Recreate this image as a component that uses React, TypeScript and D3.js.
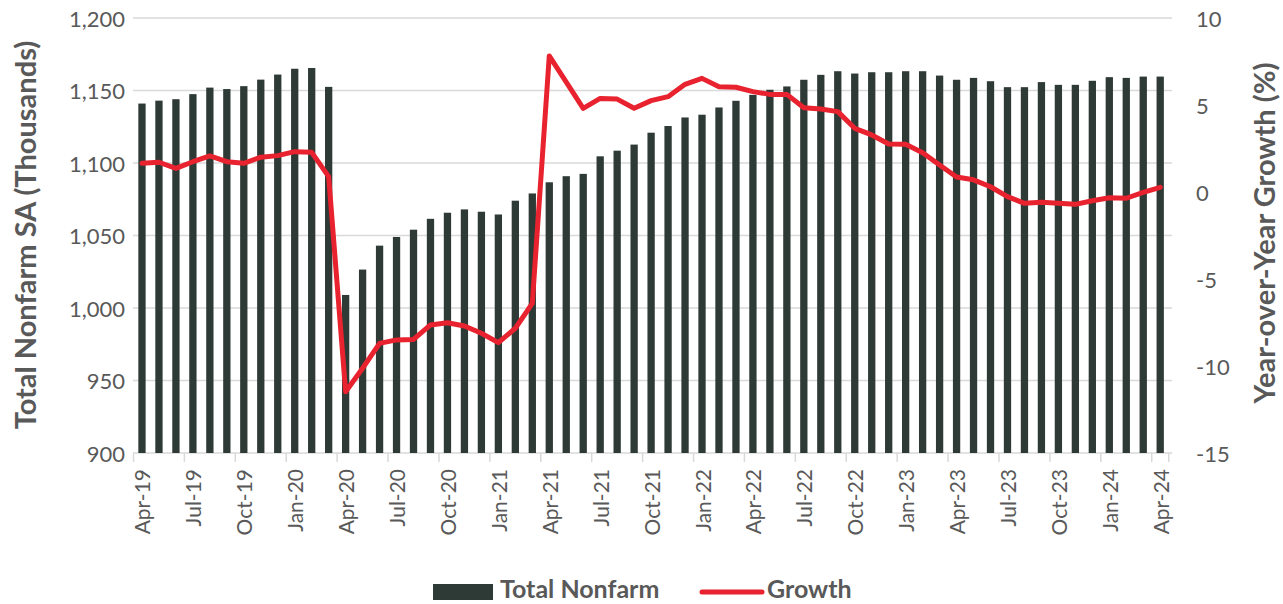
import React from "react";
import * as d3 from "d3";

const months: string[] = [
  "Apr-19","May-19","Jun-19","Jul-19","Aug-19","Sep-19","Oct-19","Nov-19","Dec-19",
  "Jan-20","Feb-20","Mar-20","Apr-20","May-20","Jun-20","Jul-20","Aug-20","Sep-20","Oct-20","Nov-20","Dec-20",
  "Jan-21","Feb-21","Mar-21","Apr-21","May-21","Jun-21","Jul-21","Aug-21","Sep-21","Oct-21","Nov-21","Dec-21",
  "Jan-22","Feb-22","Mar-22","Apr-22","May-22","Jun-22","Jul-22","Aug-22","Sep-22","Oct-22","Nov-22","Dec-22",
  "Jan-23","Feb-23","Mar-23","Apr-23","May-23","Jun-23","Jul-23","Aug-23","Sep-23","Oct-23","Nov-23","Dec-23",
  "Jan-24","Feb-24","Mar-24","Apr-24",
];

const totalNonfarm: number[] = [
  1141, 1143, 1144, 1147.5, 1152, 1151, 1153, 1157.5, 1161,
  1165, 1165.5, 1152.5, 1009, 1026.5, 1043, 1049, 1054, 1061.5, 1065.7, 1068, 1066.4,
  1064.5, 1074, 1079, 1086.7, 1090.9, 1092.5, 1104.6, 1108.5, 1112.7, 1120.9, 1125.5, 1131.4,
  1133.3, 1138.3, 1142.9, 1147, 1150.5, 1152.8, 1157.4, 1160.8, 1163.3, 1161.7, 1162.6, 1162.6,
  1163.3, 1163.3, 1160.3, 1157.4, 1158.7, 1156.4, 1152.3, 1152.3, 1155.8, 1153.9, 1153.9, 1156.7,
  1159.2, 1158.7, 1159.6, 1159.6,
];

const growth: number[] = [
  1.65, 1.71, 1.36, 1.74, 2.07, 1.74, 1.65, 2.0, 2.09,
  2.32, 2.28, 0.88, -11.48, -10.13, -8.7, -8.5, -8.47, -7.64, -7.51, -7.7, -8.12,
  -8.66, -7.83, -6.4, 7.82, 6.31, 4.81, 5.38, 5.34, 4.81, 5.25, 5.48, 6.19,
  6.53, 6.05, 6.02, 5.77, 5.61, 5.61, 4.84, 4.77, 4.62, 3.66, 3.28, 2.76,
  2.74, 2.26, 1.55, 0.86, 0.7, 0.3, -0.27, -0.65, -0.59, -0.65, -0.71, -0.5,
  -0.33, -0.36, -0.02, 0.27,
];

const leftTicks: number[] = [900, 950, 1000, 1050, 1100, 1150, 1200];
const rightTicks: number[] = [-15, -10, -5, 0, 5, 10];

const W = 1283;
const H = 604;
const FONT = "Lato, 'Open Sans', sans-serif";
const BAR = "#2e3a36";
const RED = "#e8222e";
const TEXT = "#595959";
const GRID = "#d9d9d9";

export default function App() {
  const plotL = 133.5;
  const plotR = 1168.7;
  const top = 18;
  const bottom = 453;

  const x = d3
    .scaleBand<string>()
    .domain(months)
    .range([plotL, plotR])
    .paddingInner(0.57)
    .paddingOuter(0.285);
  const yL = d3.scaleLinear().domain([900, 1200]).range([bottom, top]);
  const yR = d3.scaleLinear().domain([-15, 10]).range([bottom, top]);

  const step = x.step();
  const bw = x.bandwidth();
  const cx = (m: string) => (x(m) as number) + bw / 2;

  const line = d3
    .line<number>()
    .x((_, i) => cx(months[i]))
    .y((d) => yR(d));

  const tickMonths = months.filter((_, i) => i % 3 === 0);

  return (
    <svg
      width={W}
      height={H}
      style={{ position: "absolute", left: 0, top: 0, display: "block", background: "#fff" }}
      fontFamily={FONT}
    >
      {/* gridlines */}
      {leftTicks.slice(1).map((t) => (
        <line key={t} x1={133} x2={1172} y1={yL(t)} y2={yL(t)} stroke={GRID} strokeWidth={1.5} />
      ))}
      {/* x axis */}
      <line x1={133} x2={1172} y1={bottom} y2={bottom} stroke={GRID} strokeWidth={1.5} />
      {tickMonths.map((m) => {
        const tx = (x(m) as number) - (step - bw) / 2;
        return <line key={"t" + m} x1={tx} x2={tx} y1={bottom} y2={bottom + 9} stroke={GRID} strokeWidth={1.5} />;
      })}
      {(() => {
        const last = months[months.length - 1];
        const tx = (x(last) as number) + bw + (step - bw) / 2;
        return <line x1={tx} x2={tx} y1={bottom} y2={bottom + 9} stroke={GRID} strokeWidth={1.5} />;
      })()}

      {/* bars */}
      {totalNonfarm.map((v, i) => (
        <rect
          key={i}
          x={x(months[i]) as number}
          y={yL(v)}
          width={bw}
          height={bottom - yL(v)}
          fill={BAR}
        />
      ))}

      {/* growth line */}
      <path d={line(growth) || ""} fill="none" stroke={RED} strokeWidth={5} strokeLinejoin="round" strokeLinecap="round" />

      {/* left ticks */}
      {leftTicks.map((t) => (
        <text key={"l" + t} x={125} y={yL(t)} textAnchor="end" dominantBaseline="central" fontSize={22} fill={TEXT}>
          {d3.format(",")(t)}
        </text>
      ))}
      {/* right ticks */}
      {rightTicks.map((t) => (
        <text key={"r" + t} x={1196} y={yR(t)} textAnchor="start" dominantBaseline="central" fontSize={22} fill={TEXT}>
          {t}
        </text>
      ))}

      {/* x tick labels */}
      {tickMonths.map((m) => (
        <text
          key={"x" + m}
          transform={`translate(${cx(m)},${bottom + 16}) rotate(-90)`}
          textAnchor="end"
          dominantBaseline="central"
          fontSize={21}
          fill={TEXT}
        >
          {m}
        </text>
      ))}

      {/* axis titles */}
      <text
        transform={`translate(24,235) rotate(-90)`}
        textAnchor="middle"
        dominantBaseline="central"
        fontSize={29}
        fontWeight={700}
        fill={TEXT}
      >
        Total Nonfarm SA (Thousands)
      </text>
      <text
        transform={`translate(1263,233) rotate(-90)`}
        textAnchor="middle"
        dominantBaseline="central"
        fontSize={29}
        fontWeight={700}
        fill={TEXT}
      >
        Year-over-Year Growth (%)
      </text>

      {/* legend */}
      <rect x={433} y={584} width={60} height={16} fill={BAR} />
      <text x={500} y={598} fontSize={25} fontWeight={700} fill={TEXT}>
        Total Nonfarm
      </text>
      <line x1={702} x2={762} y1={592} y2={592} stroke={RED} strokeWidth={5} strokeLinecap="round" />
      <text x={767} y={598} fontSize={25} fontWeight={700} fill={TEXT}>
        Growth
      </text>
    </svg>
  );
}
